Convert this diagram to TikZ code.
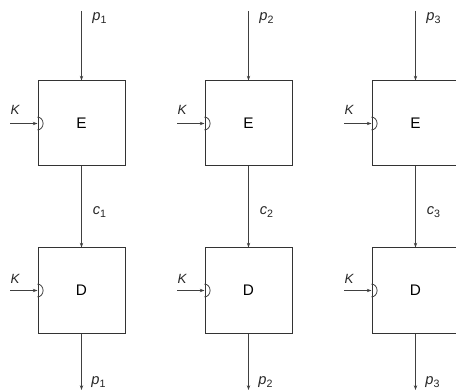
\documentclass[tikz,border=0pt]{standalone}
\usepackage{fontspec}
\setmainfont{Liberation Sans}
\usetikzlibrary{arrows.meta}
\newcommand{\lowsub}[1]{\raisebox{-0.45ex}{\fontsize{8}{9}\selectfont\upshape #1}}
\begin{document}
\begin{tikzpicture}[x=0.75pt,y=-0.75pt,
  blk/.style={draw=black!80,line width=0.75pt,minimum width=65.25pt,minimum height=63.75pt,inner sep=0pt,font=\fontsize{11.5}{13}\selectfont},
  flow/.style={draw=black!75,line width=0.6pt,-{Stealth[length=3.5pt,width=2.5pt]}},
  lbl/.style={font=\fontsize{11}{12}\selectfont\itshape,inner sep=0pt,text=black!85},
  klbl/.style={font=\fontsize{10}{11}\selectfont\itshape,inner sep=0pt,text=black!85},
  notch/.style={draw=black!75,line width=0.6pt}]
\clip (0,0) rectangle (456,391);
\fill[white] (0,0) rectangle (456,391);
\foreach \i/\xl in {1/38,2/205,3/372}{
  \pgfmathsetmacro{\xc}{\xl+43.5}
  \node[blk] (E\i) at (\xc,123.5) {E};
  \node[blk] (D\i) at (\xc,290.5) {D};
  \coordinate (pin\i) at (\xc,11);
  \coordinate (pout\i) at (\xc,390);
  \coordinate (kE\i) at (\xl-28,123.5);
  \coordinate (kD\i) at (\xl-28,290.5);
  \draw[flow] (pin\i) -- (E\i.north);
  \draw[flow] (E\i.south) -- (D\i.north);
  \draw[flow] (D\i.south) -- (pout\i);
  \draw[flow] (kE\i) -- (E\i.west);
  \draw[flow] (kD\i) -- (D\i.west);
  \draw[notch] ([yshift=4.8pt]E\i.west) arc[start angle=90,end angle=-90,x radius=4.2pt,y radius=4.8pt];
  \draw[notch] ([yshift=4.8pt]D\i.west) arc[start angle=90,end angle=-90,x radius=4.2pt,y radius=4.8pt];
  \node[klbl] (kel\i) at (\xl-23,110) {K};
  \node[klbl] (kdl\i) at (\xl-23,279) {K};
  \node[lbl] (pil\i) at (\xc+18,18) {p\lowsub{\i}};
  \node[lbl] (cl\i) at (\xc+18,212) {c\lowsub{\i}};
  \node[lbl] (pol\i) at (\xc+17,382) {p\lowsub{\i}};
}
\end{tikzpicture}
\end{document}
